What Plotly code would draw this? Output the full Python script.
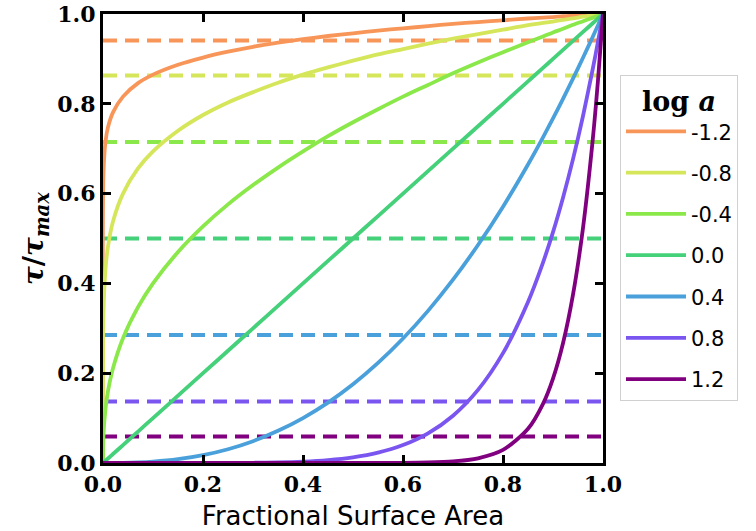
import plotly.graph_objects as go

# ---- data ----
log_a = ["-1.2", "-0.8", "-0.4", "0.0", "0.4", "0.8", "1.2"]
colors = ["#f8965a", "#d6e65a", "#8be84a", "#45d07a", "#4aa0da", "#7a55f0", "#800080"]

x_frac = [0, .001, .005, .01, .02, .04, .07, .1, .15, .2, .25, .3, .35, .4, .45, .5,
          .55, .6, .65, .7, .75, .8, .85, .88, .9, .92, .94, .96, .98, .99, 1]

y_m12 = [0, .647, .716, .748, .781, .816, .846, .865, .887, .903, .916, .927, .936, .944, .951, .957,
         .963, .968, .973, .978, .982, .986, .990, .992, .993, .995, .996, .997, .999, .999, 1]
y_m08 = [0, .335, .432, .482, .538, .600, .656, .694, .740, .775, .803, .826, .847, .865, .881, .896,
         .910, .922, .934, .945, .955, .965, .975, .980, .983, .987, .990, .994, .997, .998, 1]
y_m04 = [0, .064, .121, .160, .211, .278, .347, .400, .470, .527, .576, .619, .658, .694, .728, .759,
         .788, .816, .842, .868, .892, .915, .937, .950, .959, .967, .976, .984, .992, .996, 1]
y_p00 = [0, .001, .005, .01, .02, .04, .07, .1, .15, .2, .25, .3, .35, .4, .45, .5,
         .55, .6, .65, .7, .75, .8, .85, .88, .9, .92, .94, .96, .98, .99, 1]
y_p04 = [0, 0, 0, 0, .0001, .0003, .0013, .0031, .0085, .0175, .0307, .0486, .0716, .1001, .1345, .1753,
         .2228, .2772, .3388, .4082, .4855, .5709, .6649, .7254, .7674, .8110, .8560, .9025, .9505, .9751, 1]
y_p08 = [0, 0, 0, 0, 0, 0, 0, 0, 0, 0, .0002, .0005, .0013, .0031, .0065, .0126,
         .0230, .0399, .0660, .1053, .1628, .2447, .3587, .4464, .5142, .5909, .6767, .7729, .8803, .9385, 1]
y_p12 = [0, 0, 0, 0, 0, 0, 0, 0, 0, 0, 0, 0, 0, 0, 0, 0,
         .0001, .0003, .0011, .0035, .0105, .0291, .0761, .1318, .1881, .2667, .3750, .5236, .7260, .8527, 1]

curves = [y_m12, y_m08, y_m04, y_p00, y_p04, y_p08, y_p12]
mean_tau = [0.941, 0.863, 0.715, 0.500, 0.285, 0.137, 0.059]
dash_x = [0, 1]

xticks = [0.0, 0.2, 0.4, 0.6, 0.8, 1.0]
yticks = [0.0, 0.2, 0.4, 0.6, 0.8, 1.0]
tick_text = ["0.0", "0.2", "0.4", "0.6", "0.8", "1.0"]

fig = go.Figure()

for m, c in zip(mean_tau, colors):
    fig.add_trace(go.Scatter(x=dash_x, y=[m, m], mode="lines", showlegend=False,
                             line=dict(color=c, width=4, dash="14px,8px"), hoverinfo="skip"))

for name, ys, c in zip(log_a, curves, colors):
    fig.add_trace(go.Scatter(x=x_frac, y=ys, mode="lines", name=name, legendgroup=name,
                             line=dict(color=c, width=3.8, shape="spline", smoothing=0.8)))

axis_common = dict(
    range=[0, 1], showgrid=False, zeroline=False, showline=True, linecolor="black", linewidth=3,
    mirror="ticks", ticks="inside", ticklen=8, tickwidth=2.5, tickcolor="black", automargin=False,
    ticklabeloverflow="allow",
    tickfont=dict(family="DejaVu Serif", size=22, color="black", weight="bold"),
)

fig.update_layout(
    width=756, height=531,
    margin=dict(l=103, r=153, t=14, b=68),
    plot_bgcolor="white", paper_bgcolor="white",
    xaxis=dict(**axis_common, tickvals=xticks, ticktext=tick_text,
               title=dict(text="Fractional Surface Area", standoff=12,
                          font=dict(family="DejaVu Sans", size=26, color="black"))),
    yaxis=dict(**axis_common, tickvals=yticks, ticktext=tick_text,
               title=dict(text="<b><i>τ</i>/<i>τ</i><sub><i>max</i></sub></b>", standoff=6,
                          font=dict(family="DejaVu Serif", size=28, color="black"))),
    legend=dict(
        x=1.034, y=0.864, xanchor="left", yanchor="top",
        bordercolor="#d0d0d0", borderwidth=1, bgcolor="white",
        font=dict(family="DejaVu Sans", size=21, color="black"),
        title=dict(text="<b>log <i>a</i></b>", side="top center",
                   font=dict(family="DejaVu Serif", size=27, color="black")),
        tracegroupgap=11, itemwidth=60,
    ),
)

fig.write_html("out.html")
